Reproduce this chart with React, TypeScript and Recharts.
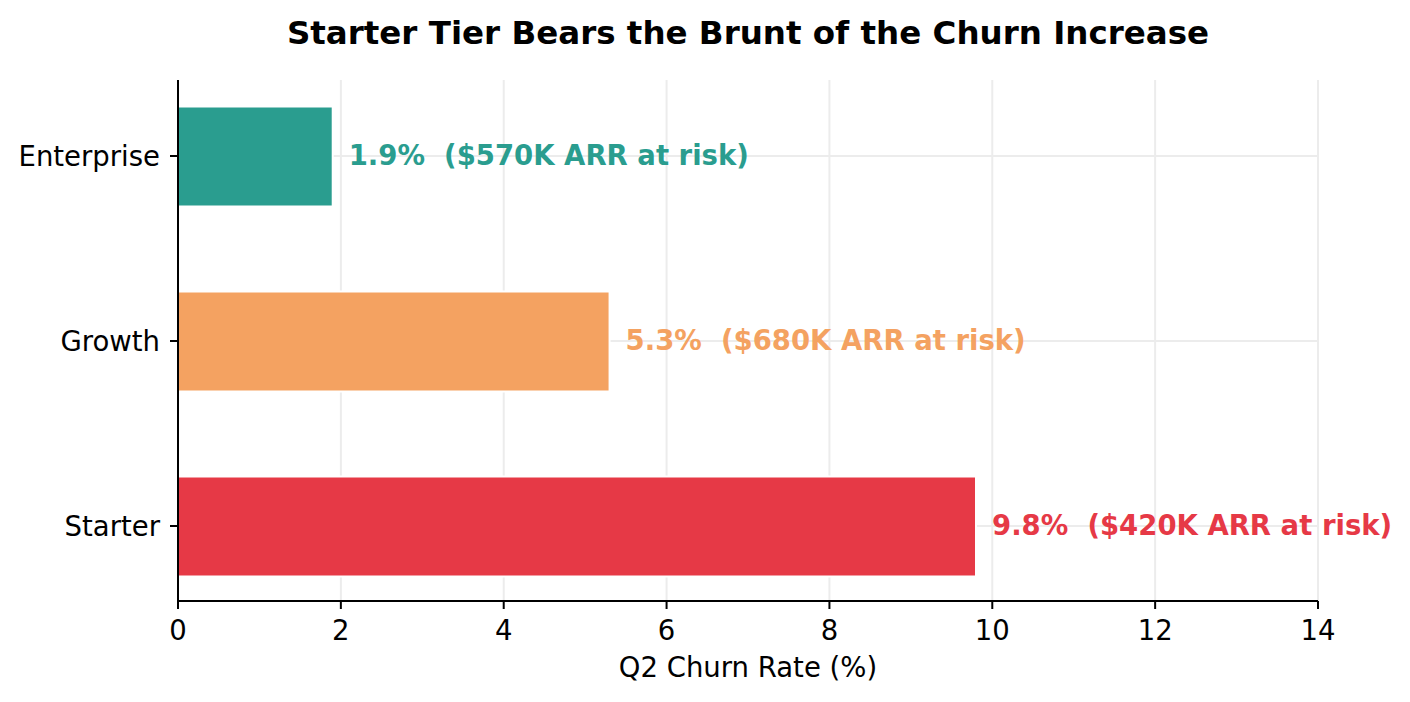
import { BarChart, Bar, XAxis, YAxis, CartesianGrid, Cell, LabelList, Customized } from "recharts";

const tiers = ["Enterprise", "Growth", "Starter"];
const churnRate = [1.9, 5.3, 9.8];
const arrAtRisk = [570, 680, 420];
const xTicks = [0, 2, 4, 6, 8, 10, 12, 14];

const TIER_COLORS: Record<string, string> = {
  Enterprise: "#2a9d8f",
  Growth: "#f4a261",
  Starter: "#e63946",
};

const FONT = "DejaVu Sans";

const data = tiers.map((tier, i) => ({
  tier,
  rate: churnRate[i],
  arr: arrAtRisk[i],
}));

function ValueLabel(props: any) {
  const { x, y, width, height, index } = props;
  const row = data[index];
  return (
    <text
      x={x + width + 16}
      y={y + height / 2 + 8}
      fill={TIER_COLORS[row.tier]}
      fontSize={27.5}
      fontWeight="bold"
      fontFamily={FONT}
      xmlSpace="preserve"
      style={{ whiteSpace: "pre" }}
    >
      {`${row.rate.toFixed(1)}%  ($${row.arr}K ARR at risk)`}
    </text>
  );
}

function Title() {
  return (
    <text
      x={748}
      y={43.5}
      textAnchor="middle"
      fontSize={32.5}
      fontWeight="bold"
      fontFamily={FONT}
      fill="#000"
    >
      Starter Tier Bears the Brunt of the Churn Increase
    </text>
  );
}

export default function App() {
  return (
    <div style={{ position: "absolute", left: 0, top: 0, background: "#fff" }}>
      <BarChart
        width={1410}
        height={702}
        data={data}
        layout="vertical"
        margin={{ top: 80, right: 92, bottom: 21, left: 0 }}
        style={{ fontFamily: FONT }}
      >
        <CartesianGrid stroke="#ececec" strokeWidth={2} syncWithTicks />
        <Bar
          dataKey="rate"
          barSize={100}
          stroke="#fff"
          strokeWidth={2}
          isAnimationActive={false}
        >
          {data.map((d) => (
            <Cell key={d.tier} fill={TIER_COLORS[d.tier]} />
          ))}
          <LabelList dataKey="rate" content={<ValueLabel />} />
        </Bar>
        <XAxis
          type="number"
          domain={[0, 14]}
          ticks={xTicks}
          height={80}
          tickSize={8}
          tickMargin={11}
          axisLine={{ stroke: "#000", strokeWidth: 2 }}
          tickLine={{ stroke: "#000", strokeWidth: 2 }}
          tick={{ fill: "#000", fontSize: 27.5, fontFamily: FONT }}
          label={{
            value: "Q2 Churn Rate (%)",
            position: "insideBottom",
            offset: 4,
            fill: "#000",
            fontSize: 27.5,
            fontFamily: FONT,
          }}
        />
        <YAxis
          type="category"
          dataKey="tier"
          width={178}
          padding={{ top: -16.5, bottom: -17.5 }}
          tickSize={8}
          tickMargin={10}
          axisLine={{ stroke: "#000", strokeWidth: 2 }}
          tickLine={{ stroke: "#000", strokeWidth: 2 }}
          tick={{ fill: "#000", fontSize: 27.5, fontFamily: FONT }}
        />
        <Customized component={Title} />
      </BarChart>
    </div>
  );
}
